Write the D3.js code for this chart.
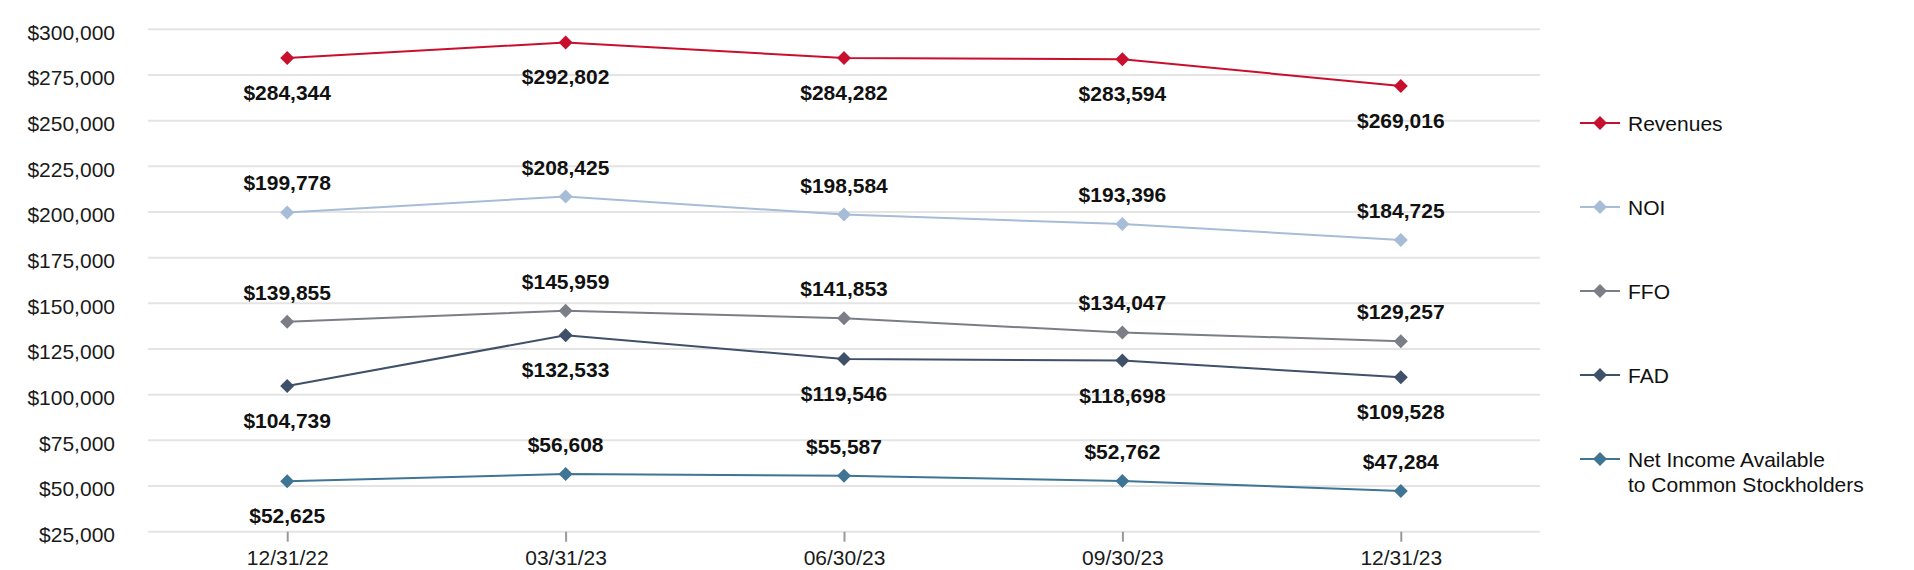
<!DOCTYPE html>
<html>
<head>
<meta charset="utf-8">
<script src="https://cdn.jsdelivr.net/npm/d3@7"></script>
<style>
  html, body { margin: 0; padding: 0; background: #fff; }
  svg { display: block; font-family: "Liberation Sans", Arial, Helvetica, sans-serif; }
</style>
</head>
<body>
<svg id="chart" width="1914" height="570"></svg>
<script>
// ---- data ----
const categories = ["12/31/22", "03/31/23", "06/30/23", "09/30/23", "12/31/23"];
const revenues   = [284344, 292802, 284282, 283594, 269016];
const noi        = [199778, 208425, 198584, 193396, 184725];
const ffo        = [139855, 145959, 141853, 134047, 129257];
const fad        = [104739, 132533, 119546, 118698, 109528];
const netIncome  = [52625, 56608, 55587, 52762, 47284];
const yTicks     = [25000, 50000, 75000, 100000, 125000, 150000, 175000, 200000, 225000, 250000, 275000, 300000];
const seriesNames = ["Revenues", "NOI", "FFO", "FAD", "Net Income Available\nto Common Stockholders"];

// ---- presentation ----
const seriesColors = ["#C8102E", "#A7BCD6", "#7B7E87", "#3F5069", "#3F7594"];
// label side for each point: 1 = below, -1 = above
const labelSide = [
  [1, 1, 1, 1, 1],
  [-1, -1, -1, -1, -1],
  [-1, -1, -1, -1, -1],
  [1, 1, 1, 1, 1],
  [1, -1, -1, -1, -1]
];

const seriesValues = [revenues, noi, ffo, fad, netIncome];
const series = seriesNames.map((name, i) => ({
  name, color: seriesColors[i], values: seriesValues[i], sides: labelSide[i]
}));

const svg = d3.select("#chart");
const fmt = v => "$" + d3.format(",")(v);

const x = d3.scalePoint().domain(categories).range([148, 1540]).padding(0.5);
const y = d3.scaleLinear().domain([25000, 300000]).range([531.7, 29.3]);

// gridlines
svg.append("g").selectAll("line").data(yTicks).join("line")
  .attr("x1", 148).attr("x2", 1540)
  .attr("y1", d => y(d)).attr("y2", d => y(d))
  .attr("stroke", "#e4e4e4").attr("stroke-width", 2);

// y axis labels
const yAxis = d3.axisLeft(y).tickValues(yTicks).tickFormat(fmt).tickSize(0).tickPadding(0);
const gy = svg.append("g").attr("transform", "translate(115,3)").call(yAxis);
gy.select(".domain").remove();
gy.selectAll("text").attr("font-size", 21).attr("fill", "#1a1a1a")
  .attr("font-family", "'Liberation Sans', Arial, sans-serif");

// x axis
const xAxis = d3.axisBottom(x).tickSize(10).tickPadding(8);
const gx = svg.append("g").attr("transform", `translate(0,${y(25000)})`).call(xAxis);
gx.select(".domain").remove();
gx.selectAll(".tick line").attr("stroke", "#999").attr("stroke-width", 2);
gx.selectAll("text").attr("font-size", 21).attr("fill", "#1a1a1a")
  .attr("font-family", "'Liberation Sans', Arial, sans-serif");

const diamond = d3.symbol().type(d3.symbolDiamond2 || d3.symbolSquare2).size(110);
const diamondPath = "M0,-7L7,0L0,7L-7,0Z";

// lines
const line = d3.line().x((d, i) => x(categories[i])).y(d => y(d));
series.forEach(s => {
  const g = svg.append("g");
  g.append("path").datum(s.values).attr("d", line)
    .attr("fill", "none").attr("stroke", s.color).attr("stroke-width", 2);
  g.selectAll("path.m").data(s.values).join("path").attr("class", "m")
    .attr("d", diamondPath)
    .attr("transform", (d, i) => `translate(${x(categories[i])},${y(d)})`)
    .attr("fill", s.color);
});

// data labels
series.forEach(s => {
  svg.append("g").selectAll("text").data(s.values).join("text")
    .attr("x", (d, i) => x(categories[i]))
    .attr("y", (d, i) => y(d) + (s.sides[i] > 0 ? 42 : -22))
    .attr("text-anchor", "middle")
    .attr("font-size", 21).attr("font-weight", "bold").attr("fill", "#111")
    .text(d => fmt(d));
});

// legend
const legendY = d3.scalePoint().domain(seriesNames).range([123, 459]);
const lg = svg.append("g");
series.forEach(s => {
  const cy = legendY(s.name);
  lg.append("line").attr("x1", 1580).attr("x2", 1620).attr("y1", cy).attr("y2", cy)
    .attr("stroke", s.color).attr("stroke-width", 2);
  lg.append("path").attr("d", diamondPath).attr("transform", `translate(1600,${cy})`)
    .attr("fill", s.color);
  const t = lg.append("text").attr("x", 1628).attr("y", cy + 7.5)
    .attr("font-size", 21).attr("fill", "#111");
  s.name.split("\n").forEach((ln, k) => {
    t.append("tspan").attr("x", 1628).attr("dy", k === 0 ? 0 : 25).text(ln);
  });
});
</script>
</body>
</html>
